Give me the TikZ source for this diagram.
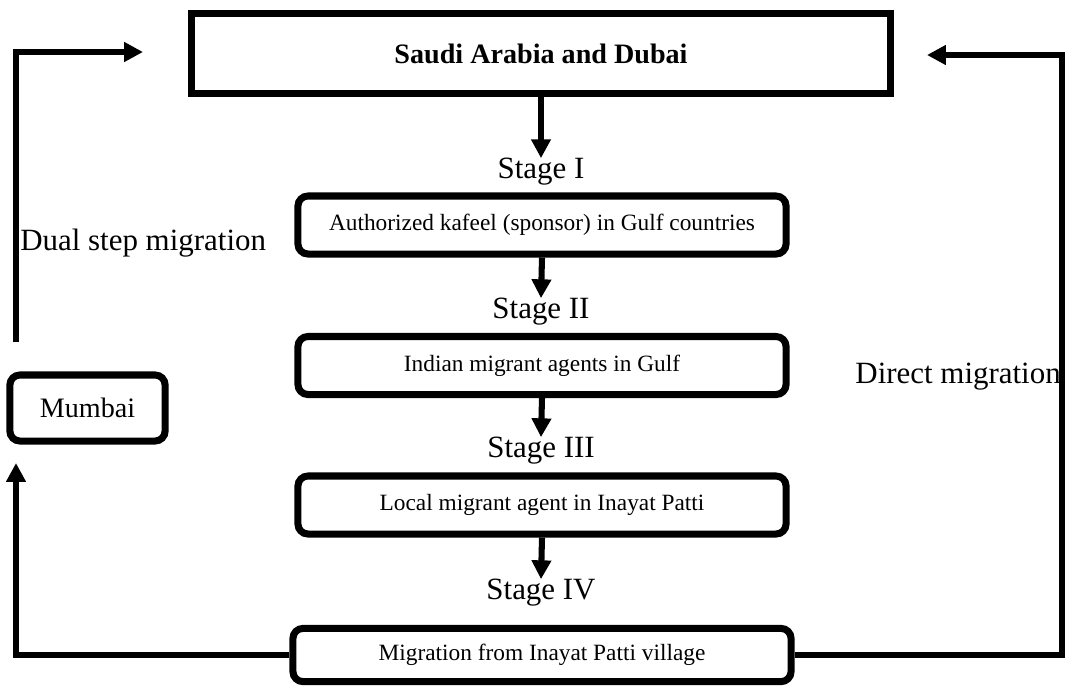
\documentclass[tikz,border=0pt]{standalone}
\usepackage{fontspec}
\setmainfont{Liberation Serif}
\usetikzlibrary{arrows.meta}

\begin{document}
\begin{tikzpicture}[x=0.025cm, y=-0.025cm,
  stagebox/.style={draw, line width=5pt, rounded corners=0.25cm, minimum width=12.2cm, minimum height=1.45cm, font=\fontsize{16.6pt}{19pt}\selectfont},
  stagelabel/.style={inner sep=0pt, font=\fontsize{22pt}{26pt}\selectfont},
  conn/.style={line width=4.3pt, -{Triangle[length=0.47cm, width=0.47cm]}}]
\useasboundingbox (0,0) rectangle (1065,687);

% Destination
\node[draw, line width=5pt, minimum width=17.48cm, minimum height=2cm, font=\bfseries\fontsize{20pt}{24pt}\selectfont] (gulf) at (541,53.5) {Saudi Arabia and Dubai};

% Stages
\node[stagelabel] (s1) at (541,172) {Stage I};
\node[stagebox] (b1) at (542,225) {Authorized kafeel (sponsor) in Gulf countries};
\node[stagelabel] (s2) at (541,312) {Stage II};
\node[stagebox] (b2) at (542,365.5) {Indian migrant agents in Gulf};
\node[stagelabel] (s3) at (541,451) {Stage III};
\node[stagebox] (b3) at (542,505) {Local migrant agent in Inayat Patti};
\node[stagelabel] (s4) at (541,593) {Stage IV};
\node[stagebox, minimum width=12.45cm, minimum height=1.33cm] (b4) at (542,655) {Migration from Inayat Patti village};

% Transit
\node[draw, line width=5pt, rounded corners=0.25cm, minimum width=3.88cm, minimum height=1.65cm, font=\fontsize{20pt}{24pt}\selectfont] (mumbai) at (87.5,408) {Mumbai};

% Routes
\node[stagelabel, anchor=west] (dual) at (20,243) {Dual step migration};
\node[stagelabel, anchor=east] (direct) at (1061,377) {Direct migration};

\coordinate (mumbaiIn) at (16,463);
\coordinate (mumbaiOut) at (16,342);
\coordinate (gulfLeft) at (143,52);
\coordinate (rightTop) at (1062,55);
\coordinate (gulfRight) at (927,55);

% Arrows
\draw[conn] (gulf.south) -- (s1.north);
\draw[conn] (b1.south) -- (s2.north);
\draw[conn] (b2.south) -- (s3.north);
\draw[conn] (b3.south) -- (s4.north);

\draw[conn] (b4.west) -| (mumbaiIn);
\draw[conn] (mumbaiOut) |- (gulfLeft);
\draw[conn] (b4.east) -| (rightTop) -- (gulfRight);
\end{tikzpicture}
\end{document}
